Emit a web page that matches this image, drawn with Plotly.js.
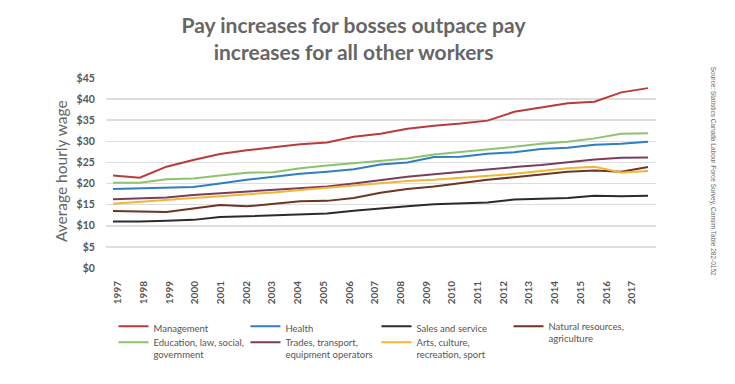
<!DOCTYPE html>
<html>
<head>
<meta charset="utf-8">
<script src="https://cdn.plot.ly/plotly-3.0.1.min.js"></script>
<style>html,body{margin:0;padding:0;background:#fff;}#chart{width:735px;height:384px;}</style>
</head>
<body>
<div id="chart"></div>
<script>
var years = [1997,1998,1999,2000,2001,2002,2003,2004,2005,2006,2007,2008,2009,2010,2011,2012,2013,2014,2015,2016,2017];
var yearLabels = years.map(String);

var management = [21.9,21.4,24.0,25.6,27.0,27.9,28.6,29.3,29.7,31.1,31.8,33.0,33.7,34.2,34.9,37.0,38.0,39.0,39.4,41.6,42.6];
var health     = [18.7,18.85,19.0,19.2,20.0,20.9,21.6,22.3,22.8,23.4,24.5,25.0,26.3,26.35,27.05,27.4,28.2,28.5,29.2,29.4,29.9];
var sales      = [11.0,11.0,11.2,11.4,12.05,12.3,12.5,12.7,12.9,13.55,14.0,14.6,15.1,15.3,15.5,16.2,16.3,16.55,17.1,17.0,17.1];
var natural    = [13.5,13.3,13.25,14.1,14.9,14.6,15.2,15.8,15.9,16.6,17.8,18.7,19.3,20.1,20.9,21.5,22.2,22.8,23.1,22.8,23.9];
var education  = [20.2,20.2,21.0,21.2,21.9,22.55,22.7,23.6,24.3,24.8,25.4,25.95,26.9,27.45,28.1,28.7,29.4,29.9,30.7,31.8,31.9];
var trades     = [16.3,16.5,16.7,17.3,17.7,18.1,18.45,18.8,19.3,20.0,20.85,21.6,22.2,22.8,23.35,23.9,24.4,25.0,25.7,26.1,26.2];
var arts       = [15.2,15.7,16.2,16.6,17.0,17.4,17.9,18.45,19.0,19.6,20.0,20.6,20.9,21.4,21.85,22.3,23.0,23.6,24.0,22.6,23.0];

var yTicks = [0,5,10,15,20,25,30,35,40,45];
var yTickLabels = ['$0','$5','$10','$15','$20','$25','$30','$35','$40','$45'];

var seriesNames = ['Management','Health','Sales and service','Natural resources,<br>agriculture',
                   'Education, law, social,<br>government','Trades, transport,<br>equipment operators','Arts, culture,<br>recreation, sport'];
var seriesData = [management, health, sales, natural, education, trades, arts];
var seriesColors = ['#b93b3b','#2e7fc2','#2b2b2b','#6e3522','#8dc26f','#7a3d5c','#f2b634'];
var legendIds = ['legend','legend2','legend3','legend4','legend5','legend6','legend7'];

var FONT = 'Lato, "Open Sans", sans-serif';

var traces = seriesData.map(function(d, i){
  return {
    type:'scatter', mode:'lines', x: years, y: d, name: seriesNames[i],
    line:{color: seriesColors[i], width:2}, legend: legendIds[i], hoverinfo:'skip'
  };
});
// label-only axis carrier
traces.push({type:'scatter', mode:'lines', x: years, y: years.map(function(){return null;}),
  xaxis:'x2', showlegend:false, hoverinfo:'skip'});

function legendAt(x, y){
  return {
    x:x, y:y, orientation:'v', xref:'paper', yref:'paper', xanchor:'left', yanchor:'top',
    font:{family:FONT, size:9.5, color:'#555'}, valign:'top',
    bgcolor:'rgba(0,0,0,0)', itemwidth:30
  };
}
var colX = [0.0136, 0.2536, 0.4918, 0.7318];
var rowY = [-0.2405, -0.3247];

var layout = {
  width:735, height:384,
  margin:{l:106, r:79, t:78, b:116},
  paper_bgcolor:'#fff', plot_bgcolor:'#fff',
  font:{family:FONT, color:'#555'},
  title:{text:'Pay increases for bosses outpace pay<br>increases for all other workers',
    font:{family:FONT, size:21, color:'#666', weight:'bold'},
    xref:'container', x:0.481, xanchor:'center', yref:'container', y:0.9146, yanchor:'top'},
  xaxis:{range:[1996.738, 2017.299], showticklabels:false, showgrid:false, zeroline:false, showline:false, fixedrange:true},
  xaxis2:{overlaying:'x', anchor:'y', side:'bottom', range:[1996.533, 2017.934],
    tickmode:'array', tickvals:years, ticktext:yearLabels, tickangle:-90,
    ticks:'outside', ticklen:8, tickcolor:'rgba(0,0,0,0)',
    showgrid:false, zeroline:false, showline:false,
    tickfont:{family:FONT, size:10, color:'#555', weight:'bold'}},
  yaxis:{range:[0,45], tickmode:'array', tickvals:yTicks, ticktext:yTickLabels,
    showgrid:true, gridcolor:'#dedede', gridwidth:1.5, zeroline:false, showline:false,
    ticks:'outside', ticklen:8, tickcolor:'rgba(0,0,0,0)',
    tickfont:{family:FONT, size:10.5, color:'#555', weight:'bold'}},
  legend:  legendAt(colX[0], rowY[0]),
  legend2: legendAt(colX[1], rowY[0]),
  legend3: legendAt(colX[2], rowY[0]),
  legend4: legendAt(colX[3], rowY[0]),
  legend5: legendAt(colX[0], rowY[1]),
  legend6: legendAt(colX[1], rowY[1]),
  legend7: legendAt(colX[2], rowY[1]),
  annotations:[
    {text:'Average hourly wage', xref:'paper', yref:'paper', x:-0.083, y:0.512,
     xanchor:'center', yanchor:'middle', textangle:-90, showarrow:false,
     font:{family:FONT, size:15.5, color:'#666'}},
    {text:'Source: Statistics Canada Labour Force Survey, Cansim Table 282-0152',
    xref:'paper', yref:'paper', x:1.1036, y:0.507, xanchor:'center', yanchor:'middle',
    textangle:90, showarrow:false, font:{family:'"Liberation Sans", sans-serif', size:6.5, color:'#666'}}],
  showlegend:true
};

Plotly.newPlot('chart', traces, layout, {staticPlot:true, displayModeBar:false});
</script>
</body>
</html>
